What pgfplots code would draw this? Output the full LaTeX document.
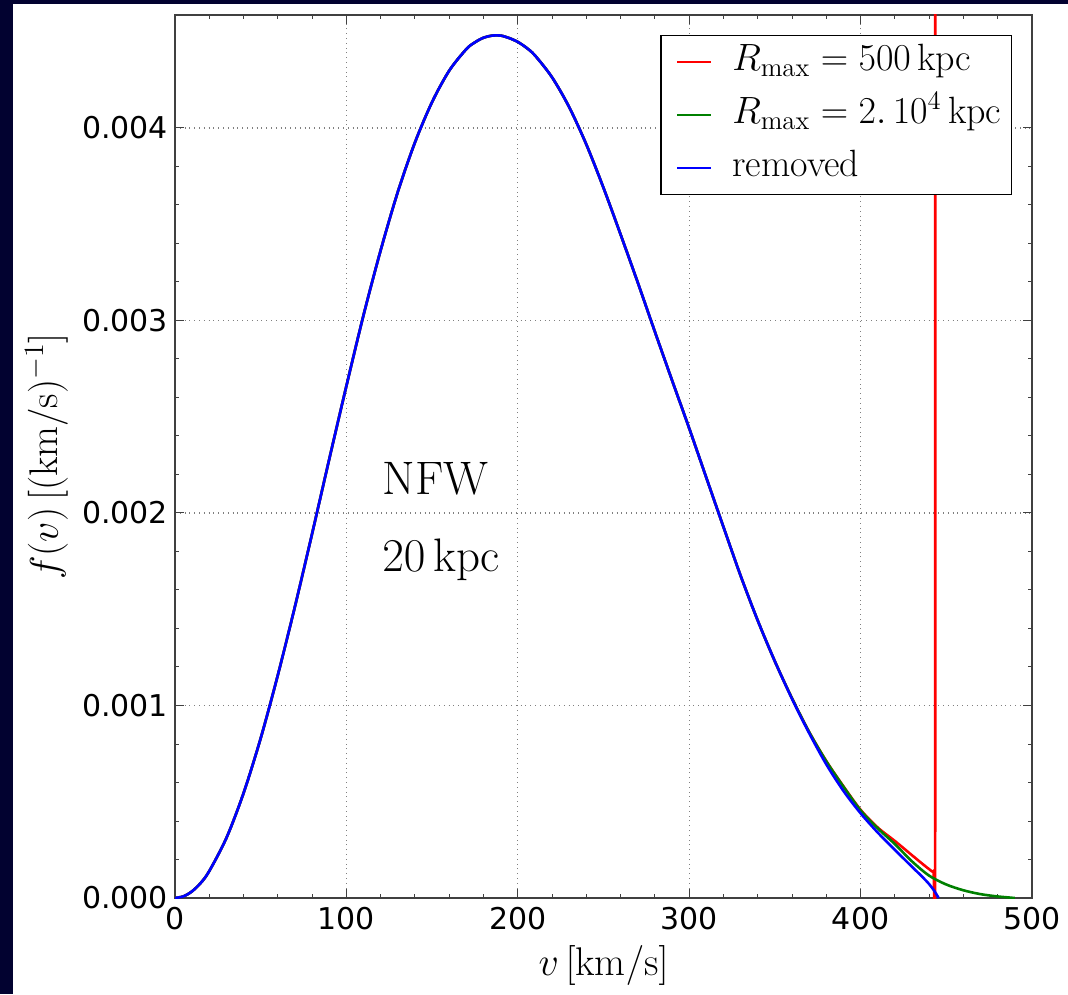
\documentclass[border=0pt]{standalone}
\usepackage{fix-cm}
\usepackage{fontspec}
\usepackage{pgfplots}
\pgfplotsset{compat=1.18}
\newfontfamily\dejavu{DejaVu Sans}
\definecolor{navybg}{RGB}{2,2,48}
\definecolor{mplgreen}{RGB}{0,128,0}
\definecolor{mplred}{RGB}{255,0,0}
\definecolor{mplblue}{RGB}{0,0,255}

\begin{document}
\begin{tikzpicture}
\useasboundingbox (0pt,0pt) rectangle (534pt,497pt);
\fill[navybg] (0pt,0pt) rectangle (534pt,497pt);
\fill[white] (6.5pt,0pt) rectangle (534pt,495pt);
\begin{axis}[
  at={(87.5pt,48pt)}, anchor=south west,
  scale only axis, width=428.5pt, height=441.5pt,
  xmin=0, xmax=500, ymin=0, ymax=0.004587,
  axis line style={black!75, line width=0.6pt},
  tick style={black!75, line width=0.5pt},
  tick align=inside,
  major tick length=4.5pt, minor tick length=2.2pt,
  minor x tick num=4, minor y tick num=4,
  xtick={0,100,200,300,400,500}, xticklabels={0,100,200,300,400,500},
  ytick={0,0.001,0.002,0.003,0.004}, yticklabels={0.000,0.001,0.002,0.003,0.004},
  scaled y ticks=false,
  ticklabel style={font=\dejavu\fontsize{15}{18}\selectfont},
  xticklabel style={yshift=-1.0pt},
  grid=major, grid style={dotted, black!50, line width=0.55pt},
  xlabel={$v\,[\mathrm{km/s}]$},
  ylabel={$f(v)\,[(\mathrm{km/s})^{-1}]$},
  label style={font=\fontsize{20}{24}\selectfont},
  xlabel style={at={(axis description cs:0.5,-0.077)}, anchor=center},
  ylabel style={at={(axis description cs:-0.150,0.5)}, anchor=center},
  legend style={at={(1,1)}, anchor=north east, xshift=-10pt, yshift=-10pt,
    draw=black, line width=0.7pt, fill=white,
    font=\fontsize{19}{23}\selectfont,
    inner xsep=5pt, inner ysep=4.4pt, row sep=9pt,
    nodes={inner sep=0pt, text height=13pt, text depth=4.5pt},
    /tikz/every odd column/.append style={column sep=10pt}},
  legend cell align=left,
  legend image code/.code={\path (0pt,0pt); \draw[#1, line width=1.3pt] (2.5pt,0pt) -- (19.5pt,0pt);},
]
\addplot[mplred, line width=1.3pt, smooth] coordinates {
(0,0) (5,0.0000087) (10,0.000035) (15,0.000078) (20,0.000140) (30,0.000312) (40,0.000545) (50,0.000830)
(60,0.001158) (70,0.001515) (80,0.001893) (90,0.002280) (100,0.002660)
(110,0.003028) (120,0.003365) (130,0.003668) (140,0.003925) (150,0.004135)
(160,0.004298) (170,0.004410) (175,0.004445) (180,0.004469) (185,0.004480) (190,0.004480)
(195,0.004467) (200,0.004447) (205,0.004417) (210,0.004377) (220,0.004263)
(230,0.004108) (240,0.003914) (250,0.003689)
(260,0.003446) (270,0.003197) (280,0.002941) (290,0.002689) (300,0.002440)
(310,0.002183) (320,0.001927) (330,0.001674) (340,0.001441) (350,0.001229)
(360,0.001037) (370,0.000862) (380,0.000711) (390,0.000580) (400,0.000458)
(410,0.000366) (420,0.000296) (430,0.000222) (436,0.000178) (440,0.000150)
(442.5,0.000140) (443.5,0.000220) (443.5,0.006)
};
\addlegendentry{$R_{\max} = 500\,\mathrm{kpc}$}
\addplot[mplgreen, line width=1.3pt, smooth] coordinates {
(0,0) (5,0.0000087) (10,0.000035) (15,0.000078) (20,0.000140) (30,0.000312) (40,0.000545) (50,0.000830)
(60,0.001158) (70,0.001515) (80,0.001893) (90,0.002280) (100,0.002660)
(110,0.003028) (120,0.003365) (130,0.003668) (140,0.003925) (150,0.004135)
(160,0.004298) (170,0.004410) (175,0.004445) (180,0.004469) (185,0.004480) (190,0.004480)
(195,0.004467) (200,0.004447) (205,0.004417) (210,0.004377) (220,0.004263)
(230,0.004108) (240,0.003914) (250,0.003689)
(260,0.003446) (270,0.003197) (280,0.002941) (290,0.002689) (300,0.002440)
(310,0.002183) (320,0.001927) (330,0.001674) (340,0.001441) (350,0.001229)
(360,0.001037) (370,0.000862) (380,0.000710) (390,0.000578) (400,0.000455)
(410,0.000362) (420,0.000280) (430,0.000190) (440,0.000116) (450,0.000070)
(460,0.000040) (470,0.000020) (480,0.000008) (490,0)
};
\addlegendentry{$R_{\max} = 2.\,10^4\,\mathrm{kpc}$}
\addplot[mplblue, line width=1.3pt, smooth] coordinates {
(0,0) (5,0.0000087) (10,0.000035) (15,0.000078) (20,0.000140) (30,0.000312) (40,0.000545) (50,0.000830)
(60,0.001158) (70,0.001515) (80,0.001893) (90,0.002280) (100,0.002660)
(110,0.003028) (120,0.003365) (130,0.003668) (140,0.003925) (150,0.004135)
(160,0.004298) (170,0.004410) (175,0.004445) (180,0.004469) (185,0.004480) (190,0.004480)
(195,0.004467) (200,0.004447) (205,0.004417) (210,0.004377) (220,0.004263)
(230,0.004108) (240,0.003914) (250,0.003689)
(260,0.003446) (270,0.003197) (280,0.002941) (290,0.002689) (300,0.002440)
(310,0.002183) (320,0.001927) (330,0.001674) (340,0.001441) (350,0.001229)
(360,0.001034) (370,0.000856) (380,0.000694) (390,0.000556) (400,0.000440)
(410,0.000340) (420,0.000250) (430,0.000162) (436,0.000110) (440,0.000072)
(443,0.000037) (445.5,0)
};
\addlegendentry{removed}
\node[anchor=base west, inner sep=0pt, font=\fontsize{23.5}{28}\selectfont] at (axis cs:120.8,0.002094) {NFW};
\node[anchor=base west, inner sep=0pt, font=\fontsize{23.5}{28}\selectfont] at (axis cs:120.8,0.001694) {$20\,\mathrm{kpc}$};
\end{axis}
\end{tikzpicture}
\end{document}
